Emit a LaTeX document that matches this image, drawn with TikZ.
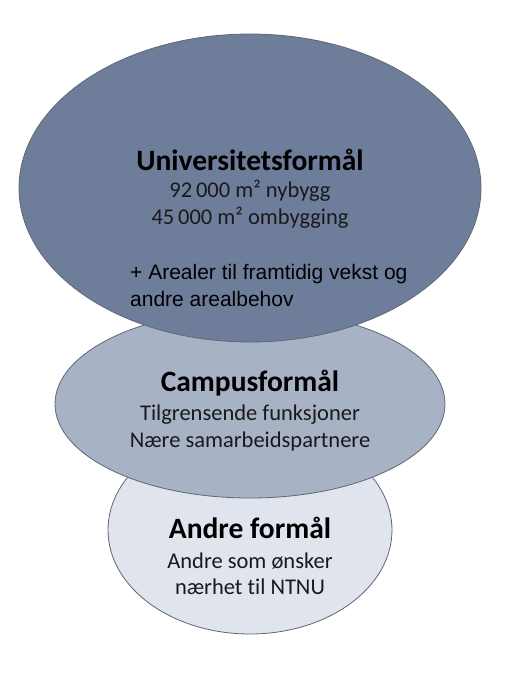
\documentclass[tikz,border=0pt]{standalone}
\usepackage{fontspec}
\setmainfont{Carlito}[Ligatures=NoCommon]
\newfontfamily\arialf{Liberation Sans}
\usetikzlibrary{shapes.geometric}
\definecolor{topfill}{RGB}{110,126,154}
\definecolor{midfill}{RGB}{168,178,197}
\definecolor{botfill}{RGB}{224,228,236}
\definecolor{edgec}{RGB}{95,102,118}
\definecolor{txt}{RGB}{25,25,28}
\begin{document}
\begin{tikzpicture}[x=1pt,y=-1pt,
  blob/.style={draw=edgec, line width=0.8pt},
  ttl/.style={font=\bfseries\fontsize{29.5}{33}\selectfont, text=black, inner sep=0},
  body/.style={font=\fontsize{22.5}{26.5}\selectfont, text=txt, align=center, inner sep=0},
  note/.style={font=\arialf\fontsize{21}{27}\selectfont, text=black, align=left, inner sep=0, anchor=west}]
\useasboundingbox (0,0) rectangle (509,681);
\fill[white] (0,0) rectangle (509,681);
% ellipses, back to front
\filldraw[blob, fill=botfill] (250,530) ellipse [x radius=142, y radius=104];
\filldraw[blob, fill=midfill] (250,404) ellipse [x radius=195, y radius=94];
\filldraw[blob, fill=topfill] (250,188) ellipse [x radius=231, y radius=154];
% texts
\node[ttl] (t1) at (250,160) {Universitetsformål};
\node[body] (b1) at (250,204) {92\,000 m² nybygg\\45\,000 m² ombygging};
\node[note] (n1) at (130,285) {+ Arealer til framtidig vekst og\\andre arealbehov};
\node[ttl] (t2) at (250,383) {Campusformål};
\node[body] (b2) at (250,428) {Tilgrensende funksjoner\\Nære samarbeidspartnere};
\node[ttl] (t3) at (250,528) {Andre formål};
\node[body] (b3) at (250,574) {Andre som ønsker\\nærhet til NTNU};
\end{tikzpicture}
\end{document}
